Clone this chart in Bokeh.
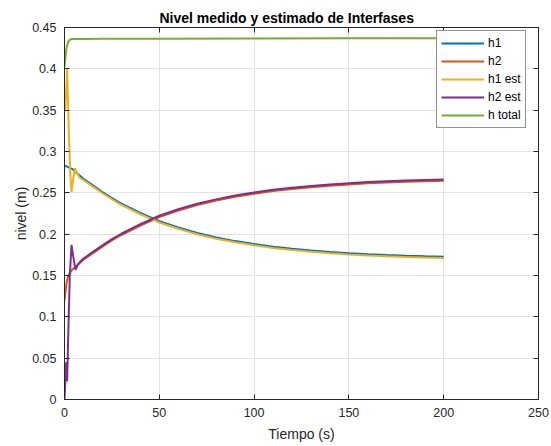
from bokeh.plotting import figure
from bokeh.models import (Range1d, FixedTicker, LinearAxis, Legend, LegendItem,
                          CustomJSTickFormatter)
from bokeh.embed import file_html
from bokeh.resources import INLINE

# ---- data ----
t_meas = [0, 1, 2, 4, 6, 8, 10, 15, 20, 25, 30, 40, 50, 60, 70, 80, 90, 100,
          110, 120, 130, 140, 150, 160, 170, 180, 190, 200]
h1 = [0.283, 0.282, 0.281, 0.279, 0.275, 0.271, 0.267, 0.259, 0.251, 0.2437,
      0.237, 0.2256, 0.2157, 0.208, 0.2015, 0.196, 0.1916, 0.188, 0.1848,
      0.1823, 0.1802, 0.1784, 0.177, 0.1758, 0.1748, 0.174, 0.1733, 0.1727]
h2 = [0.120, 0.140, 0.150, 0.157, 0.161, 0.165, 0.169, 0.177, 0.185, 0.1925,
      0.199, 0.2105, 0.2208, 0.2287, 0.2352, 0.2406, 0.2452, 0.249, 0.2522,
      0.2547, 0.2568, 0.2586, 0.2602, 0.2615, 0.2625, 0.2634, 0.2641, 0.2647]

t_h1_est = [0, 0.5, 1.4, 2.2, 3.0, 3.7, 4.5, 5.5, 6.5, 8, 10, 15, 20, 25, 30,
            40, 50, 60, 70, 80, 90, 100, 110, 120, 130, 140, 150, 160, 170,
            180, 190, 200]
h1_est = [0.350, 0.352, 0.400, 0.330, 0.275, 0.251, 0.265, 0.280, 0.274,
          0.2685, 0.2655, 0.2575, 0.2495, 0.2422, 0.2355, 0.2241, 0.2142,
          0.2065, 0.2000, 0.1945, 0.1901, 0.1865, 0.1833, 0.1808, 0.1787,
          0.1769, 0.1755, 0.1743, 0.1733, 0.1725, 0.1718, 0.1712]

t_h2_est = [0, 0.9, 1.4, 2.0, 2.8, 3.7, 4.7, 5.8, 7, 8.4, 10, 15, 20, 25, 30,
            40, 50, 60, 70, 80, 90, 100, 110, 120, 130, 140, 150, 160, 170,
            180, 190, 200]
h2_est = [0.000, 0.045, 0.022, 0.080, 0.150, 0.187, 0.172, 0.157, 0.163,
          0.167, 0.1705, 0.1785, 0.1865, 0.194, 0.2005, 0.212, 0.2223,
          0.2302, 0.2367, 0.2421, 0.2467, 0.2505, 0.2537, 0.2562, 0.2583,
          0.2601, 0.2617, 0.263, 0.264, 0.2649, 0.2656, 0.2662]

t_total = [0, 1, 2, 3, 4, 6, 10, 20, 50, 100, 150, 200]
h_total = [0.402, 0.425, 0.433, 0.4355, 0.436, 0.4361, 0.4362, 0.4363,
           0.4365, 0.4368, 0.437, 0.437]

x_ticks = [0, 50, 100, 150, 200, 250]
y_ticks = [0, 0.05, 0.1, 0.15, 0.2, 0.25, 0.3, 0.35, 0.4, 0.45]

series_labels = ["h1", "h2", "h1 est", "h2 est", "h total"]
colors = ["#0072BD", "#D95319", "#EDB120", "#7E2F8E", "#77AC30"]

FONT = "Liberation Sans"
TXT = "#262626"

p = figure(width=549, height=444, output_backend="svg", toolbar_location=None,
           x_range=Range1d(0, 250), y_range=Range1d(0, 0.45),
           min_border_left=64, min_border_right=11, min_border_top=27,
           min_border_bottom=44)

p.title.text = "Nivel medido y estimado de Interfases"
p.title.align = "left"
p.title.offset = 95
p.title.text_font = FONT
p.title.text_font_size = "14px"
p.title.text_font_style = "bold"
p.title.text_color = "#000000"
p.title.standoff = 4

p.outline_line_color = TXT
p.outline_line_width = 1
p.outline_line_alpha = 1
p.background_fill_color = "white"

fmt = CustomJSTickFormatter(code="return tick.toFixed(2).replace(/0+$/,'').replace(/\\.$/,'');")
blank = CustomJSTickFormatter(code="return '';")

for ax in p.xaxis:
    ax.ticker = FixedTicker(ticks=x_ticks)
for ax in p.yaxis:
    ax.ticker = FixedTicker(ticks=y_ticks)
    ax.formatter = fmt

for ax in list(p.xaxis) + list(p.yaxis):
    ax.major_tick_in = 5
    ax.major_tick_out = 0
    ax.minor_tick_in = 0
    ax.minor_tick_out = 0
    ax.axis_line_color = TXT
    ax.major_tick_line_color = TXT
    ax.major_label_text_font = FONT
    ax.major_label_text_font_size = "12.5px"
    ax.major_label_text_color = TXT
    ax.axis_label_text_font = FONT
    ax.axis_label_text_font_size = "14px"
    ax.axis_label_text_font_style = "normal"
    ax.axis_label_text_color = TXT

p.xaxis.axis_label = "Tiempo (s)"
p.yaxis.axis_label = "nivel (m)"
p.xaxis.major_label_standoff = 8
p.xaxis.axis_label_standoff = 6
p.yaxis.major_label_standoff = 8
p.yaxis.axis_label_standoff = 0

# mirrored ticks on top and right (no labels)
top_ax = LinearAxis(ticker=FixedTicker(ticks=x_ticks), formatter=blank,
                    major_tick_in=5, major_tick_out=0, minor_tick_in=0,
                    minor_tick_out=0, axis_line_color=TXT,
                    major_tick_line_color=TXT, major_label_standoff=0)
right_ax = LinearAxis(ticker=FixedTicker(ticks=y_ticks), formatter=blank,
                      major_tick_in=5, major_tick_out=0, minor_tick_in=0,
                      minor_tick_out=0, axis_line_color=TXT,
                      major_tick_line_color=TXT, major_label_standoff=0)
p.add_layout(top_ax, "above")
p.add_layout(right_ax, "right")

p.xgrid.ticker = FixedTicker(ticks=x_ticks)
p.ygrid.ticker = FixedTicker(ticks=y_ticks)
p.grid.grid_line_color = "#e3e3e3"
p.grid.grid_line_width = 1

xs = [t_meas, t_meas, t_h1_est, t_h2_est, t_total]
ys = [h1, h2, h1_est, h2_est, h_total]
renderers = []
for x, y, c in zip(xs, ys, colors):
    r = p.line(x, y, line_color=c, line_width=2)
    renderers.append(r)

legend = Legend(items=[LegendItem(label=l, renderers=[r])
                       for l, r in zip(series_labels, renderers)],
                location=(372, 271))
legend.glyph_width = 43
legend.glyph_height = 16
legend.label_height = 16
legend.label_standoff = 4
legend.spacing = 2
legend.padding = 4
legend.margin = 0
legend.label_text_font = FONT
legend.label_text_font_size = "12px"
legend.label_text_color = "#000000"
legend.border_line_color = "#262626"
legend.border_line_width = 1
legend.background_fill_color = "white"
legend.background_fill_alpha = 1
p.add_layout(legend, "center")

open("out.html", "w").write(file_html(p, INLINE))
